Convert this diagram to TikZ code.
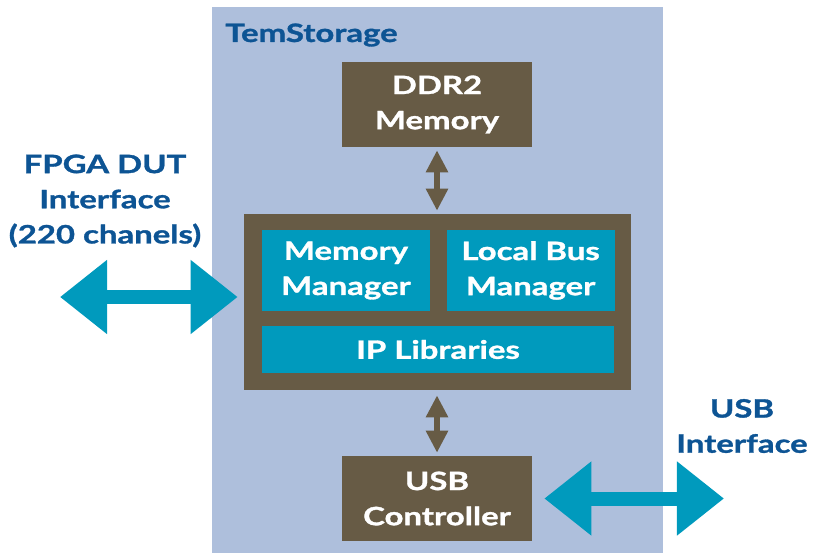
\documentclass[tikz,border=0pt]{standalone}
\usepackage{fontspec}
\setmainfont{Lato}[FakeStretch=1.3, BoldFeatures={FakeStretch=1.3, FakeBold=1.2}]
\usepackage{tikz}
\usetikzlibrary{arrows.meta, positioning}
\definecolor{bgblue}{HTML}{AEBFDC}
\definecolor{boxbrown}{HTML}{675B45}
\definecolor{tealblue}{HTML}{009ABD}
\definecolor{labelblue}{HTML}{0D5494}
\tikzstyle{hwbox} = [rectangle, fill=boxbrown, text=white, align=center, minimum width=4.75cm, minimum height=2.125cm, inner sep=0pt]
\tikzstyle{module} = [rectangle, fill=tealblue, text=white, align=center, minimum width=4.2cm, minimum height=2.025cm, inner sep=0pt]
\tikzstyle{extlabel} = [text=labelblue, align=center]
\tikzstyle{busarrow} = [{Triangle[length=0.55cm, width=0.525cm]}-{Triangle[length=0.55cm, width=0.525cm]}, line width=0.15cm, boxbrown]
\tikzstyle{portarrow} = [{Triangle[length=1.175cm, width=1.775cm]}-{Triangle[length=1.175cm, width=1.775cm]}, line width=0.35cm, tealblue]

\begin{document}
\begin{tikzpicture}[x=0.025cm, y=-0.025cm, font=\fontsize{18}{25}\selectfont\bfseries]
    \useasboundingbox (0,0) rectangle (820,553);

    % background
    \node (board) [rectangle, fill=bgblue, minimum width=11.275cm, minimum height=13.65cm, inner sep=0pt] at (437.5,280) {};
    \node (title) [anchor=west, text=labelblue, inner sep=0pt] at (225,35) {TemStorage};

    % nodes
    \node (ddr) [hwbox] at (437,104.5) {DDR2\\Memory};
    \node (core) [rectangle, fill=boxbrown, minimum width=9.675cm, minimum height=4.4cm, inner sep=0pt] at (437.5,302) {};
    \node (memmgr) [module] at (346,270.5) {Memory\\Manager};
    \node (lbm) [module, right=0.4cm of memmgr] {Local Bus\\Manager};
    \node (iplib) [module, minimum width=8.8cm, minimum height=1.175cm] at (438,349.5) {IP Libraries};
    \node (usbc) [hwbox] at (437,498.5) {USB\\Controller};
    \node (fpga) [extlabel] at (105,201) {FPGA DUT\\Interface\\(220 chanels)};
    \node (usbif) [extlabel] at (742,426) {USB\\Interface};
    \coordinate (fpgaport) at (60,297);
    \coordinate (usbport) at (724,498.5);

    % edges
    \draw [busarrow, shorten <=0.075cm, shorten >=0.075cm] (ddr) -- (ddr.south |- core.north);
    \draw [busarrow, shorten <=0.125cm, shorten >=0.075cm] (core.south -| usbc.north) -- (usbc);
    \draw [portarrow, shorten >=0.15cm] (fpgaport) -- (core.west |- fpgaport);
    \draw [portarrow, shorten <=0.3cm] (usbc.east) -- (usbport);

\end{tikzpicture}
\end{document}
